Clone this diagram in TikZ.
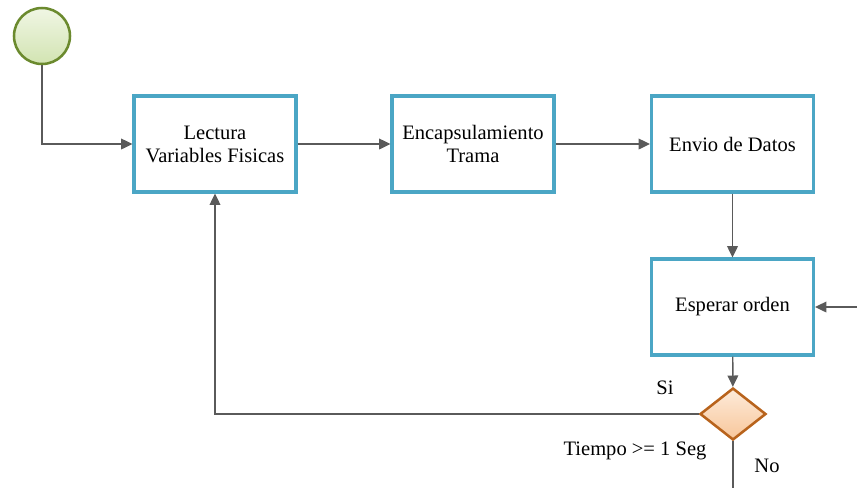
\documentclass[tikz,border=0pt]{standalone}
\usepackage{fontspec}
\setmainfont{Liberation Serif}
\newfontfamily\diafont{Liberation Serif}
\usetikzlibrary{arrows.meta,shapes.geometric}
\definecolor{boxblue}{HTML}{4BA6C5}
\definecolor{conngray}{HTML}{5A5A5A}
\definecolor{startborder}{HTML}{6B8A2E}
\definecolor{starttop}{HTML}{F0F6E4}
\definecolor{startbot}{HTML}{D2E4B2}
\definecolor{decborder}{HTML}{B8631C}
\definecolor{dectop}{HTML}{FDEBDA}
\definecolor{decbot}{HTML}{F8C69A}
\begin{document}
\begin{tikzpicture}[x=0.75pt,y=-0.75pt,
  txt/.style={font=\diafont\fontsize{15.4}{17.3}\selectfont},
  task/.style={txt,draw=boxblue,line width=2.3pt,fill=white,minimum width=121.5pt,minimum height=72pt,align=center,inner sep=0pt},
  startev/.style={circle,draw=startborder,line width=1.9pt,top color=starttop,bottom color=startbot,minimum size=42pt,inner sep=0pt},
  gate/.style={diamond,draw=decborder,line width=1.9pt,top color=dectop,bottom color=decbot,minimum width=49.5pt,minimum height=39pt,inner sep=0pt},
  conn/.style={draw=conngray,line width=1.1pt,-{Triangle[length=8.5pt,width=8pt]}},
  plain/.style={draw=conngray,line width=1.1pt},
  lbl/.style={txt,inner sep=0pt}]
\useasboundingbox (0,0) rectangle (857,487);
\node[startev] (start) at (42,36) {};
\node[task] (b1) at (215,144) {Lectura\\Variables Fisicas};
\node[task] (b2) at (473,144) {Encapsulamiento\\Trama};
\node[task] (b3) at (732.5,144) {Envio de Datos};
\node[task] (b4) at (732.5,307) {Esperar orden};
\node[gate] (dec) at (733,414) {};
\coordinate (endb) at (733,490);
\coordinate (inr) at (860,307);
\draw[conn] (start.south) |- (b1.west);
\draw[conn] (b1) -- (b2);
\draw[conn] (b2) -- (b3);
\draw[conn] (b3) -- (b4);
\draw[conn] (b4) -- (dec);
\draw[conn] (dec.west) -| (b1.south);
\draw[plain] (dec.south) -- (endb);
\draw[conn] (inr) -- (b4.east);
\node[lbl] (si) at (665,388) {Si};
\node[lbl] (tiempo) at (635,451) {Tiempo >= 1 Seg};
\node[lbl] (no) at (767,466) {No};
\end{tikzpicture}
\end{document}
